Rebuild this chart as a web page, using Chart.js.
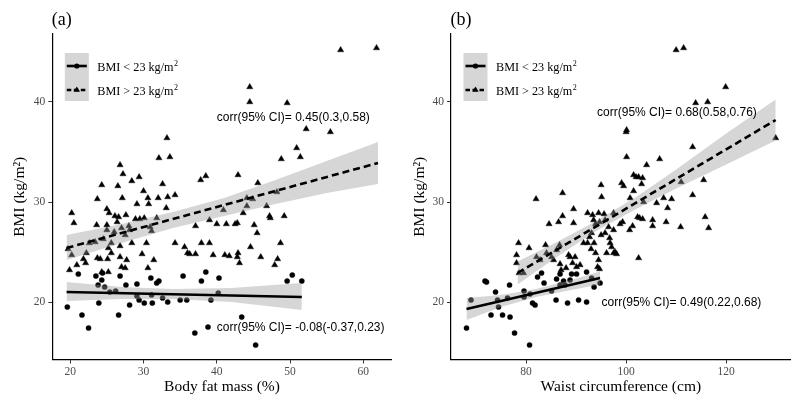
<!DOCTYPE html>
<html lang="en">
<head>
<meta charset="UTF-8">
<title>BMI vs body fat / waist</title>
<script src="https://cdn.jsdelivr.net/npm/chart.js@4/dist/chart.umd.min.js"></script>
<style>
  body { margin: 0; background: #fff; }
  #wrap { position: relative; width: 800px; height: 405px; }
  canvas { position: absolute; top: 0; }
</style>
</head>
<body>
<div id="wrap">
  <canvas id="chartA" width="400" height="405" style="left:0"></canvas>
  <canvas id="chartB" width="400" height="405" style="left:400px"></canvas>
</div>
<script>
// ---- data ----
const yTicks = [20, 30, 40];
const fatTicks = [20, 30, 40, 50, 60];
const waistTicks = [80, 100, 120];
const legendLabels = ['BMI < 23 kg/m', 'BMI > 23 kg/m'];

// (a) body fat mass, BMI > 23 (triangles)
const fatOverX = [56.9,61.8,44.5,44.5,49.6,52.2,55.5,33.2,50.9,48.8,51.4,33.6,32.1,26.8,27.2,29.4,28.4,24.3,26.5,32.6,
  38.5,37.8,42.9,45.6,30.0,30.6,32.0,33.3,34.3,27.1,23.7,44.1,48.2,29.1,30.7,33.1,20.2,20.5,25.0,25.3,
  23.6,26.1,26.6,27.6,26.4,25.0,28.0,28.9,29.5,30.1,31.8,30.9,31.1,28.1,25.0,26.0,27.0,27.5,23.4,24.5,
  22.6,25.6,26.8,28.4,30.4,19.7,20.2,22.2,21.8,20.9,22.1,23.7,24.1,25.1,25.2,25.6,26.8,27.0,27.5,27.7,
  29.8,30.6,31.4,19.9,24.3,25.2,34.3,35.6,36.0,36.3,37.1,37.1,37.9,39.0,39.0,39.5,40.0,40.9,41.3,41.1,
  41.7,42.5,42.8,42.9,42.8,43.1,43.6,44.1,44.6,45.1,45.5,46.0,46.8,47.2,47.3,47.9,48.3,48.7,49.2,44.9];
const fatOverY = [45.2,45.4,41.5,40.0,39.9,37.3,37.0,36.4,35.4,34.3,34.5,34.5,34.4,33.7,32.8,32.5,32.1,31.7,31.6,31.8,
  32.6,32.2,32.7,31.9,31.1,30.4,30.4,30.5,30.7,30.4,30.3,30.4,31.0,29.8,29.8,29.4,28.9,27.9,29.3,28.9,
  27.7,28.6,28.5,28.7,28.0,27.7,27.6,28.3,28.3,28.4,28.4,27.5,27.1,27.2,27.2,27.0,27.4,26.7,26.0,26.3,
  25.9,25.9,25.6,25.9,25.9,25.3,24.7,24.9,24.3,23.7,23.9,24.4,24.3,24.3,25.4,24.9,24.5,23.5,23.4,24.2,
  24.8,23.4,24.2,23.2,23.0,23.0,25.9,25.5,24.9,24.8,24.8,27.6,25.9,25.9,28.2,24.7,27.8,29.2,27.8,24.7,
  24.6,27.8,27.9,24.9,24.5,23.9,28.9,29.6,25.5,27.7,26.9,24.5,29.6,28.6,28.4,23.7,24.3,25.9,28.6,30.3];
// (a) body fat mass, BMI < 23 (circles)
const fatUnderX = [19.6,21.1,21.6,22.5,23.5,23.8,23.9,24.3,24.4,24.7,25.4,26.2,26.6,26.8,27.6,28.1,29.1,29.1,29.4,30.1,
  31.0,31.1,31.2,31.8,32.1,32.6,33.3,35.0,35.4,35.9,37.0,37.9,38.5,38.8,39.2,40.3,40.2,43.4,45.3,49.6,50.3,51.6];
const fatUnderY = [19.5,22.8,18.7,17.4,22.6,21.7,19.9,22.2,22.9,21.5,21.0,21.1,18.7,22.6,21.7,19.7,21.8,20.6,20.2,19.9,
  22.4,20.7,19.9,21.9,22.1,20.4,20.0,20.2,22.6,20.2,16.9,22.1,23.0,17.5,20.2,22.4,20.9,18.5,15.7,22.1,22.7,22.1];

// (a) fitted lines and 95% bands
const fatFitOverX = [19.5, 62];
const fatFitOverY = [25.4, 33.9];
const fatBandOverX = [19.5, 27, 34, 41, 48, 55, 62];
const fatBandOverHi = [26.7, 27.8, 29.0, 30.4, 32.2, 34.1, 36.0];
const fatBandOverLo = [24.2, 25.9, 27.4, 28.6, 29.8, 30.9, 31.8];
const fatFitUnderX = [19.5, 51.6];
const fatFitUnderY = [21.0, 20.5];
const fatBandUnderX = [19.5, 27, 34, 42, 51.6];
const fatBandUnderHi = [22.0, 21.5, 21.3, 21.4, 21.9];
const fatBandUnderLo = [20.1, 20.3, 20.3, 20.0, 19.2];

// (b) waist circumference, BMI > 23 (triangles)
const waistOverX = [110.0,111.5,119.9,113.9,116.3,100.1,100.0,129.9,113.3,100.1,106.7,104.1,101.5,102.0,102.5,99.1,99.5,95.0,103.1,101.5,
  87.3,82.0,95.1,100.8,115.5,113.3,107.5,109.1,111.0,103.3,106.1,108.3,103.3,105.3,105.3,108.0,110.9,115.8,116.5,103.5,
  89.5,92.3,93.3,94.5,95.6,97.5,84.6,86.5,87.3,89.5,93.5,93.9,94.7,95.8,96.5,97.5,98.8,99.3,100.7,101.3,
  102.3,102.7,102.5,78.5,78.1,78.1,78.6,79.5,80.6,82.1,82.8,83.9,84.1,85.1,85.5,86.1,86.7,86.8,87.0,88.0,
  88.5,88.8,89.3,89.8,90.1,90.8,91.5,92.3,92.7,93.0,93.1,93.6,93.9,94.5,94.7,94.3,95.0,95.8,96.7,96.8,
  97.1,96.1,97.5,97.8,98.1];
const waistOverY = [45.2,45.4,41.5,39.9,40.0,37.2,37.0,36.4,35.5,34.5,34.3,33.7,32.7,32.5,32.5,31.9,31.6,31.7,31.8,31.1,
  30.9,30.3,30.5,30.4,32.2,30.7,30.4,30.3,32.0,32.4,29.9,29.4,28.3,28.2,27.6,28.0,27.5,28.5,27.4,30.0,
  29.3,28.9,28.7,28.9,28.8,28.9,27.8,28.0,28.6,27.9,28.2,27.8,28.0,28.2,27.5,27.2,27.8,28.0,27.2,27.6,
  28.5,28.4,24.4,25.9,24.7,23.9,22.9,22.9,25.4,24.5,24.2,25.7,24.9,24.5,24.2,25.2,25.7,23.8,23.2,23.4,
  24.7,24.5,23.9,24.5,23.5,23.7,25.9,25.9,26.5,25.3,26.9,25.9,24.9,24.2,23.3,23.5,26.7,26.9,26.4,25.9,
  25.5,24.9,24.9,25.0,24.8];
// (b) waist circumference, BMI < 23 (circles)
const waistUnderX = [68.1,69.0,71.8,72.1,73.0,73.9,74.3,74.5,75.3,76.3,76.8,76.7,77.7,79.6,79.6,80.7,80.8,81.3,81.8,82.3,
  83.1,83.6,85.1,86.0,86.8,87.5,88.3,88.8,89.1,90.1,90.5,92.1,92.1,93.1,93.6,94.8,86.8,87.8,86.1];
const waistUnderY = [17.4,20.2,22.1,22.0,18.7,21.0,20.2,19.5,18.7,20.4,18.5,21.7,16.9,21.1,20.5,15.7,20.8,19.9,19.7,22.5,
  22.9,21.9,21.1,20.2,22.8,22.1,19.9,22.2,22.8,22.8,20.2,20.0,23.0,22.4,21.5,21.9,21.7,21.7,22.3];

// (b) fitted lines and 95% bands
const waistFitOverX = [78.3, 129.9];
const waistFitOverY = [22.9, 38.2];
const waistBandOverX = [78.3, 86, 94, 102, 110, 120, 129.9];
const waistBandOverHi = [24.05, 25.95, 28.1, 30.5, 33.25, 36.85, 40.25];
const waistBandOverLo = [21.75, 24.45, 27.1, 29.3, 31.35, 33.75, 36.15];
const waistFitUnderX = [68.1, 94.8];
const waistFitUnderY = [19.3, 22.4];
const waistBandUnderX = [68.1, 75, 82, 89, 94.8];
const waistBandUnderHi = [20.4, 20.7, 21.3, 22.2, 23.05];
const waistBandUnderLo = [18.2, 19.5, 20.5, 21.2, 21.75];

// ---- drawing ----
const SERIF = '"Liberation Serif", "Times New Roman", serif';
const SANS = '"Liberation Sans", Arial, sans-serif';
const bandFill = 'rgba(153,153,153,0.4)';

function pts(xs, ys) {
  return xs.map((x, i) => ({ x: x, y: ys[i] }));
}

// legend + panel tag + correlation notes
const extras = {
  id: 'extras',
  afterDraw(chart) {
    const p = chart.options.plugins.extras;
    const ctx = chart.ctx, a = chart.chartArea;
    const xs = chart.scales.x, ys = chart.scales.y;
    ctx.save();

    // panel tag
    ctx.fillStyle = '#000';
    ctx.font = '18px ' + SERIF;
    ctx.textAlign = 'left';
    ctx.textBaseline = 'alphabetic';
    ctx.fillText(p.tag, a.left - 0.5, 25);

    // legend
    const bx = a.left + 12.5, by = 53;
    ctx.fillStyle = bandFill;
    ctx.fillRect(bx, by, 24, 48);
    const rows = [66, 90];
    rows.forEach((ry, i) => {
      ctx.strokeStyle = '#000';
      ctx.lineWidth = 2.6;
      ctx.setLineDash(i === 0 ? [] : [4.5, 2.5]);
      ctx.beginPath();
      ctx.moveTo(bx + 2, ry);
      ctx.lineTo(bx + 22, ry);
      ctx.stroke();
      ctx.setLineDash([]);
      ctx.fillStyle = '#000';
      ctx.beginPath();
      if (i === 0) {
        ctx.arc(bx + 12, ry, 2.6, 0, Math.PI * 2);
      } else {
        ctx.moveTo(bx + 12, ry - 3.6);
        ctx.lineTo(bx + 15.2, ry + 1.8);
        ctx.lineTo(bx + 8.8, ry + 1.8);
        ctx.closePath();
      }
      ctx.fill();

      ctx.font = '12.2px ' + SERIF;
      ctx.textAlign = 'left';
      ctx.textBaseline = 'alphabetic';
      const tx = a.left + 45;
      ctx.fillText(legendLabels[i], tx, ry + 5);
      const w = ctx.measureText(legendLabels[i]).width;
      ctx.font = '8px ' + SERIF;
      ctx.fillText('2', tx + w + 0.5, ry - 0.5);
    });

    // correlation notes
    ctx.font = '12px ' + SANS;
    ctx.textBaseline = 'middle';
    p.notes.forEach(n => {
      ctx.fillText(n.text, xs.getPixelForValue(n.x), ys.getPixelForValue(n.y));
    });
    ctx.restore();
  }
};

function makePanel(id, p) {
  const datasets = [
    { data: pts(p.triX, p.triY), pointStyle: 'triangle', pointRadius: 3.6, pointHoverRadius: 3.6,
      backgroundColor: '#000', borderColor: '#000', borderWidth: 0.4, order: 5 },
    { data: pts(p.cirX, p.cirY), pointStyle: 'circle', pointRadius: 2.6, pointHoverRadius: 2.6,
      backgroundColor: '#000', borderColor: '#000', borderWidth: 0.4, order: 5 },
    { data: pts(p.bandOverX, p.bandOverLo), showLine: true, pointRadius: 0, borderColor: 'transparent', fill: false, order: 3 },
    { data: pts(p.bandOverX, p.bandOverHi), showLine: true, pointRadius: 0, borderColor: 'transparent',
      backgroundColor: bandFill, fill: 2, order: 3 },
    { data: pts(p.bandUnderX, p.bandUnderLo), showLine: true, pointRadius: 0, borderColor: 'transparent', fill: false, order: 3 },
    { data: pts(p.bandUnderX, p.bandUnderHi), showLine: true, pointRadius: 0, borderColor: 'transparent',
      backgroundColor: bandFill, fill: 4, order: 3 },
    { data: pts(p.fitOverX, p.fitOverY), showLine: true, pointRadius: 0, borderColor: '#000',
      borderWidth: 2.6, borderDash: [7, 4], order: 1 },
    { data: pts(p.fitUnderX, p.fitUnderY), showLine: true, pointRadius: 0, borderColor: '#000',
      borderWidth: 2.6, order: 1 }
  ];

  new Chart(document.getElementById(id), {
    type: 'scatter',
    data: { datasets: datasets },
    plugins: [extras],
    options: {
      responsive: false,
      animation: false,
      devicePixelRatio: 1,
      layout: { padding: { top: 34, right: 400 - p.plotRight, left: 0, bottom: 0 } },
      plugins: {
        legend: { display: false },
        tooltip: { enabled: false },
        extras: { tag: p.tag, notes: p.notes }
      },
      scales: {
        x: {
          type: 'linear', min: p.xMin, max: p.xMax,
          afterBuildTicks: s => { s.ticks = p.xTicks.map(v => ({ value: v })); },
          afterFit: s => { s.height = 405 - 359.5; },
          grid: { drawOnChartArea: false, tickLength: 4, color: '#333', lineWidth: 1 },
          border: { color: '#000', width: 1.2 },
          ticks: { color: '#4d4d4d', font: { family: SERIF, size: 11.5 }, padding: 2, maxRotation: 0, autoSkip: false },
          title: { display: true, text: p.xTitle, color: '#000', font: { family: SERIF, size: 15.5 },
                   padding: { top: 0, bottom: 9 } }
        },
        y: {
          type: 'linear', min: 14.25, max: 46.8,
          afterBuildTicks: s => { s.ticks = yTicks.map(v => ({ value: v })); },
          afterFit: s => { s.width = p.plotLeft; },
          grid: { drawOnChartArea: false, tickLength: 4, color: '#333', lineWidth: 1 },
          border: { color: '#000', width: 1.2 },
          ticks: { color: '#4d4d4d', font: { family: SERIF, size: 11.5 }, padding: 3 },
          title: { display: true, text: 'BMI (kg/m²)', color: '#000', font: { family: SERIF, size: 15.5 },
                   padding: { top: 11, bottom: 0 } }
        }
      }
    }
  });
}

makePanel('chartA', {
  tag: '(a)', plotLeft: 52.3, plotRight: 391.7, xMin: 17.55, xMax: 63.87, xTicks: fatTicks,
  xTitle: 'Body fat mass (%)',
  triX: fatOverX, triY: fatOverY, cirX: fatUnderX, cirY: fatUnderY,
  fitOverX: fatFitOverX, fitOverY: fatFitOverY,
  bandOverX: fatBandOverX, bandOverHi: fatBandOverHi, bandOverLo: fatBandOverLo,
  fitUnderX: fatFitUnderX, fitUnderY: fatFitUnderY,
  bandUnderX: fatBandUnderX, bandUnderHi: fatBandUnderHi, bandUnderLo: fatBandUnderLo,
  notes: [
    { x: 40.0, y: 38.4, text: 'corr(95% CI)= 0.45(0.3,0.58)' },
    { x: 40.0, y: 17.4, text: 'corr(95% CI)= -0.08(-0.37,0.23)' }
  ]
});

makePanel('chartB', {
  tag: '(b)', plotLeft: 51, plotRight: 390.7, xMin: 65, xMax: 132.9, xTicks: waistTicks,
  xTitle: 'Waist circumference (cm)',
  triX: waistOverX, triY: waistOverY, cirX: waistUnderX, cirY: waistUnderY,
  fitOverX: waistFitOverX, fitOverY: waistFitOverY,
  bandOverX: waistBandOverX, bandOverHi: waistBandOverHi, bandOverLo: waistBandOverLo,
  fitUnderX: waistFitUnderX, fitUnderY: waistFitUnderY,
  bandUnderX: waistBandUnderX, bandUnderHi: waistBandUnderHi, bandUnderLo: waistBandUnderLo,
  notes: [
    { x: 94.2, y: 38.9, text: 'corr(95% CI)= 0.68(0.58,0.76)' },
    { x: 95.1, y: 19.9, text: 'corr(95% CI)= 0.49(0.22,0.68)' }
  ]
});
</script>
</body>
</html>
